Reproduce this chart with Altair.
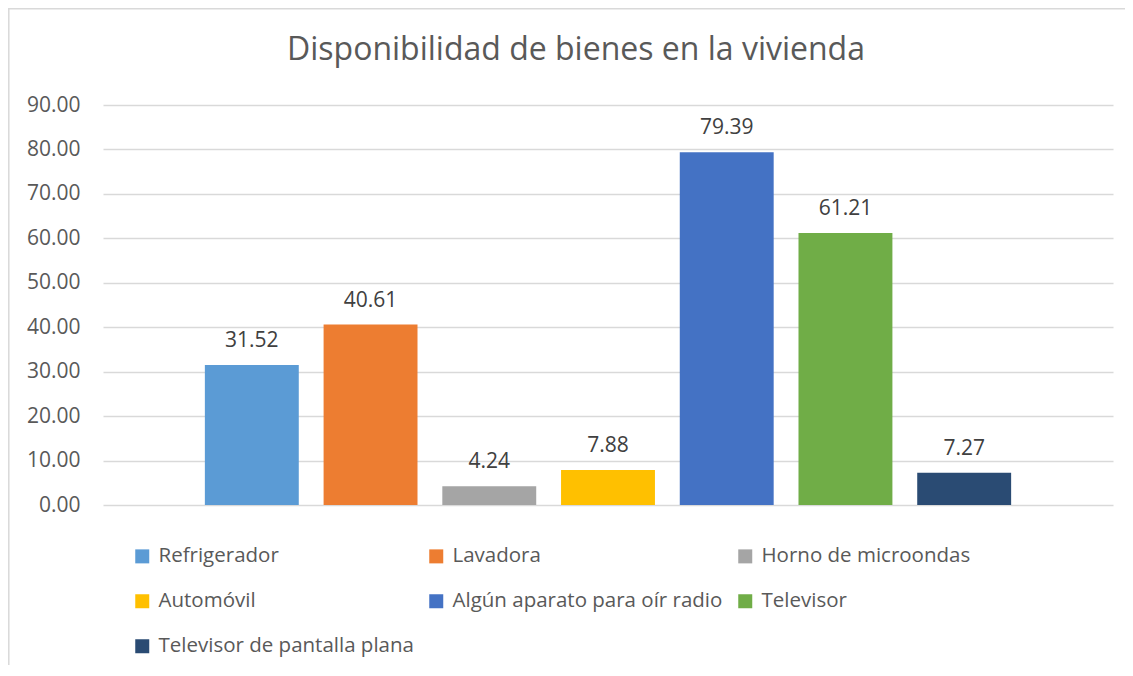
import altair as alt
import pandas as pd

categories = ["Refrigerador", "Lavadora", "Horno de microondas", "Automóvil",
              "Algún aparato para oír radio", "Televisor", "Televisor de pantalla plana"]
values = [31.52, 40.61, 4.24, 7.88, 79.39, 61.21, 7.27]
colors = ["#5B9BD5", "#ED7D31", "#A5A5A5", "#FFC000", "#4472C4", "#70AD47", "#2A4B73"]
y_ticks = [0, 10, 20, 30, 40, 50, 60, 70, 80, 90]

df = pd.DataFrame({"bien": categories, "pct": values})

FONT = "Open Sans"
GRID = "#d9d9d9"

x_enc = alt.X("bien:N", sort=categories,
              scale=alt.Scale(domain=categories, paddingInner=0.209, paddingOuter=0.858),
              axis=None)
y_axis = alt.Axis(values=y_ticks, format=".2f", title=None, grid=True, gridColor=GRID,
                  gridWidth=1.3, domain=False, ticks=False, tickSize=0, labelPadding=23,
                  labelFont=FONT, labelFontSize=21, labelColor="#595959")
y_enc = alt.Y("pct:Q", scale=alt.Scale(domain=[0, 90], nice=False), axis=y_axis)

legend = alt.Legend(title=None, orient="none", direction="horizontal", legendX=29,
                    legendY=441, columns=3, columnPadding=12, rowPadding=24,
                    symbolType="square", symbolSize=196, symbolStrokeWidth=0,
                    labelFont=FONT, labelFontSize=20.5, labelColor="#595959",
                    labelOffset=6, labelLimit=400, padding=0)

bars = alt.Chart(df).mark_bar().encode(
    x=x_enc,
    y=y_enc,
    color=alt.Color("bien:N", sort=categories,
                    scale=alt.Scale(domain=categories, range=colors), legend=legend),
)

labels = alt.Chart(df).mark_text(dy=-18, baseline="alphabetic", font=FONT, fontSize=21,
                                 color="#404040").encode(
    x=x_enc,
    y=alt.Y("pct:Q"),
    text=alt.Text("pct:Q", format=".2f"),
)

frame_df = pd.DataFrame({"k": [0]})
frame_top = alt.Chart(frame_df).mark_rule(color=GRID, strokeWidth=1.5).encode(
    x=alt.value(-95), x2=alt.value(1030), y=alt.value(-96.2))
frame_left = alt.Chart(frame_df).mark_rule(color=GRID, strokeWidth=1.5).encode(
    x=alt.value(-94.2), y=alt.value(-97), y2=alt.value(575))

chart = alt.layer(bars, labels, frame_top, frame_left).properties(
    width=1010,
    height=400,
    autosize="none",
    padding={"left": 95, "top": 97, "right": 12, "bottom": 160},
    title=alt.TitleParams("Disponibilidad de bienes en la vivienda", font=FONT, fontSize=32,
                          fontWeight="normal", color="#595959", anchor="middle", dx=-32,
                          offset=0, dy=85, baseline="alphabetic"),
).configure_view(stroke=None)

chart.save("out.html", embed_options={"renderer": "svg", "actions": False})
